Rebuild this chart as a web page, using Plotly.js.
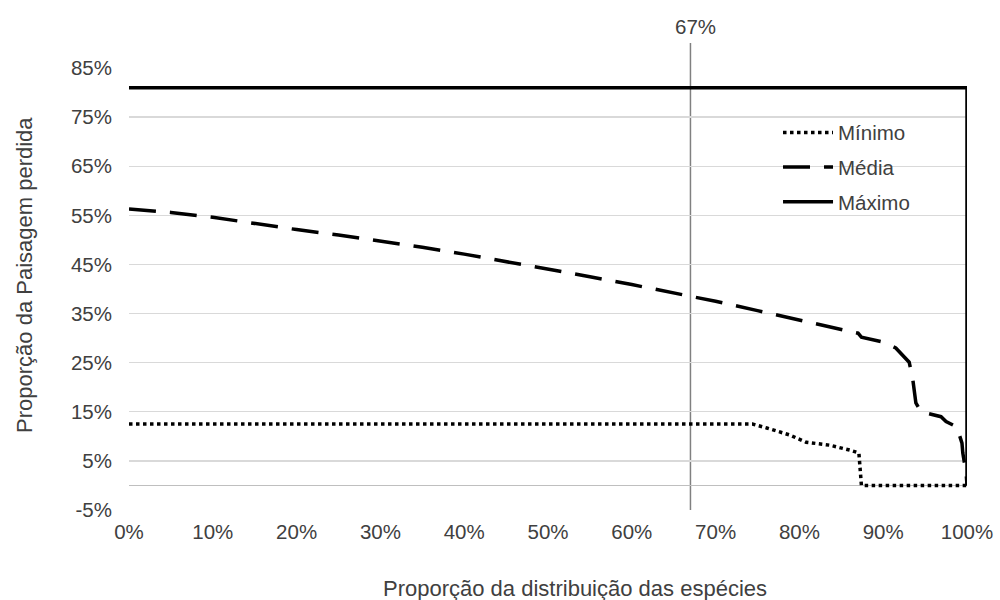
<!DOCTYPE html>
<html><head><meta charset="utf-8">
<script src="https://cdn.plot.ly/plotly-3.0.1.min.js"></script>
<style>html,body{margin:0;padding:0;background:#fff}#chart{width:1000px;height:600px}</style>
</head><body><div id="chart"></div>
<script>
// Proporção da distribuição das espécies (x) vs Proporção da Paisagem perdida (y)
const minimoX = [0, 0.744, 0.761, 0.788, 0.808, 0.836, 0.860, 0.871, 0.874, 1.0];
const minimoY = [0.125, 0.125, 0.117, 0.103, 0.088, 0.082, 0.072, 0.066, 0.0, 0.0];

const mediaX = [0, 0.05, 0.10, 0.15, 0.20, 0.25, 0.30, 0.35, 0.40, 0.45, 0.50, 0.55, 0.60, 0.65, 0.70, 0.75, 0.80, 0.85, 0.870, 0.874, 0.900, 0.915, 0.931, 0.935, 0.939, 0.945, 0.969, 0.975, 0.988, 0.994, 0.995, 0.999, 1.0];
const mediaY = [0.563, 0.556, 0.546, 0.533, 0.521, 0.510, 0.498, 0.485, 0.471, 0.456, 0.440, 0.425, 0.409, 0.392, 0.375, 0.356, 0.337, 0.317, 0.310, 0.302, 0.292, 0.280, 0.251, 0.220, 0.168, 0.150, 0.140, 0.130, 0.119, 0.086, 0.066, 0.025, 0.0];

const maximoX = [0, 1.0, 1.0];
const maximoY = [0.81, 0.81, 0.0];

const refLineX = [0.67];
const refLineLabel = ['67%'];

const seriesNames = ['Mínimo', 'Média', 'Máximo'];
const yTickVals = [-0.05, 0.05, 0.15, 0.25, 0.35, 0.45, 0.55, 0.65, 0.75, 0.85];
const yTickText = ['-5%', '5%', '15%', '25%', '35%', '45%', '55%', '65%', '75%', '85%'];
const xTickVals = [0, 0.1, 0.2, 0.3, 0.4, 0.5, 0.6, 0.7, 0.8, 0.9, 1.0];
const xTickText = ['0%', '10%', '20%', '30%', '40%', '50%', '60%', '70%', '80%', '90%', '100%'];

const FONT = '"Liberation Sans", Arial, sans-serif';
const TXT = '#404040';

const traces = [
  {x: minimoX, y: minimoY, name: seriesNames[0], mode: 'lines', legendgroup: 'a',
   line: {color: '#000', width: 3.5, dash: '3.5px,3.5px'}},
  {x: mediaX, y: mediaY, name: seriesNames[1], mode: 'lines', legendgroup: 'b',
   line: {color: '#000', width: 3.5, dash: '27px,14px'}},
  {x: maximoX, y: maximoY, name: seriesNames[2], mode: 'lines', legendgroup: 'c',
   line: {color: '#000', width: 3.5}}
];

const layout = {
  width: 1000, height: 600,
  margin: {l: 129, r: 33, t: 68, b: 90},
  paper_bgcolor: '#fff', plot_bgcolor: '#fff',
  font: {family: FONT, size: 20.5, color: TXT},
  showlegend: true,
  legend: {x: 0.7745, y: 0.899, xanchor: 'left', yanchor: 'top', bgcolor: 'rgba(0,0,0,0)',
           font: {family: FONT, size: 20.5, color: TXT}, itemwidth: 50, tracegroupgap: 5,
           traceorder: 'grouped'},
  xaxis: {range: [0, 1], tickvals: xTickVals, ticktext: xTickText, showgrid: false,
          zeroline: false, showline: false, ticks: '', ticklabelstandoff: 7,
          tickfont: {family: FONT, size: 20.5, color: TXT}, fixedrange: true},
  yaxis: {range: [-0.05, 0.85], tickvals: yTickVals, ticktext: yTickText, showgrid: true,
          gridcolor: '#d9d9d9', gridwidth: 1.3, zeroline: true, zerolinecolor: '#bfbfbf',
          zerolinewidth: 1.5, showline: false, ticks: '', ticklabelstandoff: 16,
          tickfont: {family: FONT, size: 20.5, color: TXT}, fixedrange: true},
  shapes: [
    {type: 'line', xref: 'x', yref: 'paper', x0: refLineX[0], x1: refLineX[0], y0: 0, y1: 1.0566,
     line: {color: '#808080', width: 1.5}, layer: 'below'}
  ],
  annotations: [
    {xref: 'x', yref: 'paper', x: refLineX[0], y: 1.093, text: refLineLabel[0], showarrow: false,
     xanchor: 'center', yanchor: 'middle', xshift: 5, font: {family: FONT, size: 20.5, color: TXT}},
    {xref: 'paper', yref: 'paper', x: 0.532, y: -0.1765, text: 'Proporção da distribuição das espécies',
     showarrow: false, xanchor: 'center', yanchor: 'middle', font: {family: FONT, size: 22, color: TXT}},
    {xref: 'paper', yref: 'paper', x: -0.124, y: 0.532, text: 'Proporção da Paisagem perdida',
     showarrow: false, textangle: -90, xanchor: 'center', yanchor: 'middle',
     font: {family: FONT, size: 22, color: TXT}}
  ]
};

Plotly.newPlot('chart', traces, layout, {displayModeBar: false, staticPlot: true});
</script></body></html>
